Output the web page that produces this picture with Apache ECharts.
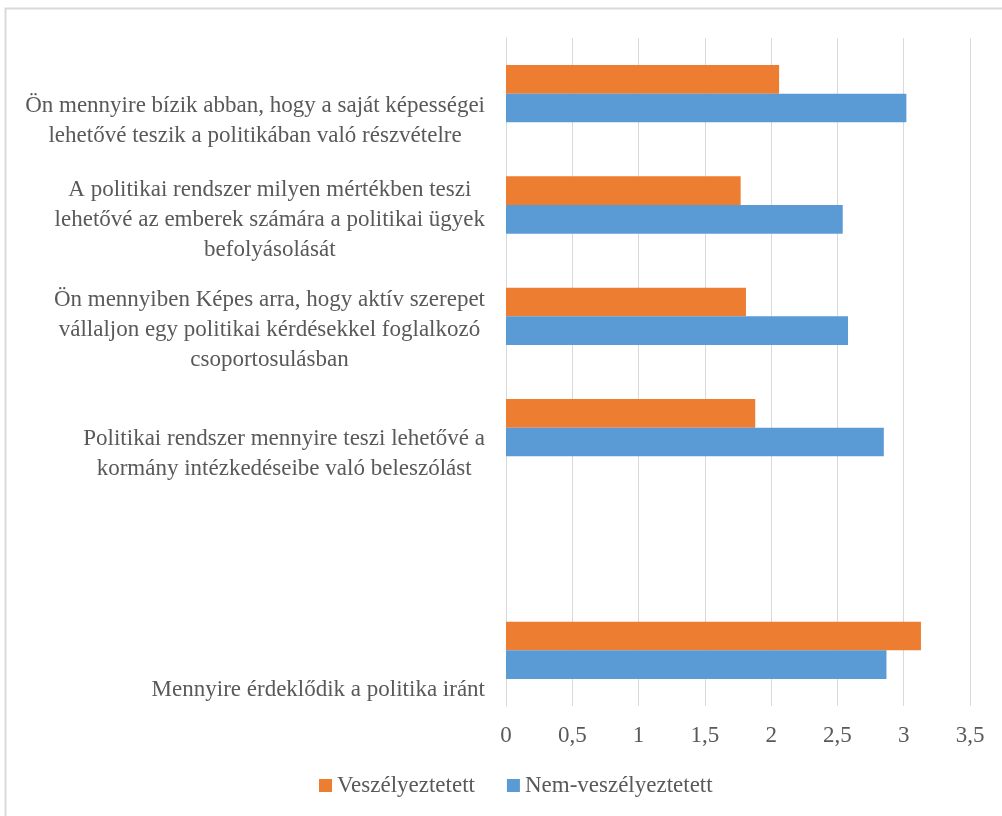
<!DOCTYPE html>
<html>
<head>
<meta charset="utf-8">
<style>
  html, body { margin: 0; padding: 0; background: #ffffff; }
  #chart { width: 1002px; height: 816px; }
</style>
<script src="https://cdn.jsdelivr.net/npm/echarts@6/dist/echarts.min.js"></script>
</head>
<body>
<div id="chart"></div>
<script>
// Survey items, listed top to bottom (one empty slot before the last item)
var categories = [
  'Ön mennyire bízik abban, hogy a saját képességei\nlehetővé teszik a politikában való részvételre',
  'A politikai rendszer milyen mértékben teszi\nlehetővé az emberek számára a politikai ügyek\nbefolyásolását',
  'Ön mennyiben Képes arra, hogy aktív szerepet\nvállaljon egy politikai kérdésekkel foglalkozó\ncsoportosulásban',
  'Politikai rendszer mennyire teszi lehetővé a\nkormány intézkedéseibe való beleszólást',
  '',
  'Mennyire érdeklődik a politika iránt'
];

var seriesNames = ['Veszélyeztetett', 'Nem-veszélyeztetett'];

// Mean scores per item
var veszelyeztetett = [2.06, 1.77, 1.81, 1.88, null, 3.13];
var nemVeszelyeztetett = [3.02, 2.54, 2.58, 2.85, null, 2.87];

// Value axis ticks
var tickMin = 0;
var tickMax = 3.5;
var tickStep = 0.5;

// How far each category label sits below its bar pair (px)
var labelDrop = [27, 15, 14, 26, 0, 40];

var FONT = '"Liberation Serif", "DejaVu Serif", serif';
var TEXT = '#595959';
var GRID = '#D9D9D9';
var FS = 23;
var LH = 30;

var rich = {
  t: { align: 'center', fontFamily: FONT, fontSize: FS, lineHeight: LH, color: TEXT }
};
labelDrop.forEach(function (d, i) {
  rich['g' + i] = { fontSize: 1, lineHeight: Math.max(1, d * 2), color: 'rgba(0,0,0,0)' };
});

var chart = echarts.init(document.getElementById('chart'), null, { renderer: 'canvas' });

chart.setOption({
  animation: false,
  backgroundColor: '#ffffff',
  color: ['#ED7D31', '#5B9BD5'],
  graphic: [{
    type: 'rect',
    silent: true,
    shape: { x: 5.5, y: 8.5, width: 1200, height: 1000 },
    style: { fill: 'none', stroke: GRID, lineWidth: 2 }
  }],
  grid: { left: 506, right: 32, top: 38, bottom: 110 },
  legend: {
    left: 314,
    top: 769,
    itemWidth: 13,
    itemHeight: 13,
    itemGap: 32,
    icon: 'rect',
    data: seriesNames,
    textStyle: { fontFamily: FONT, fontSize: FS, color: TEXT }
  },
  xAxis: {
    type: 'value',
    min: tickMin,
    max: tickMax,
    interval: tickStep,
    axisLine: { show: false },
    axisTick: { show: false },
    splitLine: { show: true, lineStyle: { color: GRID, width: 1 } },
    axisLabel: {
      margin: 18,
      fontFamily: FONT,
      fontSize: FS,
      color: TEXT,
      formatter: function (v) { return String(v).replace('.', ','); }
    }
  },
  yAxis: {
    type: 'category',
    inverse: true,
    data: categories,
    axisLine: { show: true, lineStyle: { color: GRID, width: 1 } },
    axisTick: { show: false },
    axisLabel: {
      interval: 0,
      margin: 21,
      fontFamily: FONT,
      fontSize: FS,
      color: TEXT,
      rich: rich,
      formatter: function (value, idx) {
        if (!value) return '';
        var body = value.split('\n').map(function (l) { return '{t|' + l + '}'; }).join('\n');
        return '{g' + idx + '| }\n' + body;
      }
    }
  },
  series: [
    {
      name: seriesNames[0],
      type: 'bar',
      data: veszelyeztetett,
      barGap: '0%',
      barCategoryGap: '48.5%'
    },
    {
      name: seriesNames[1],
      type: 'bar',
      data: nemVeszelyeztetett,
      barGap: '0%',
      barCategoryGap: '48.5%'
    }
  ]
});
</script>
</body>
</html>
